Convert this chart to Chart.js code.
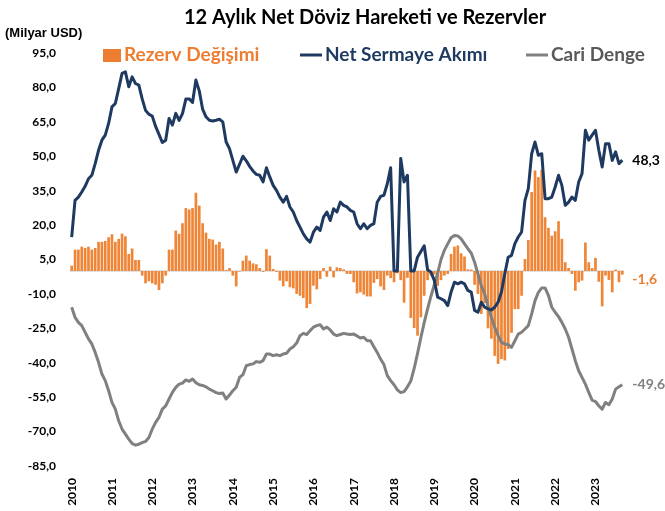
<!DOCTYPE html>
<html>
<head>
<meta charset="utf-8">
<script src="https://cdn.jsdelivr.net/npm/chart.js@4.4.0/dist/chart.umd.min.js"></script>
<style>
  html, body { margin: 0; padding: 0; background: #fff; }
</style>
</head>
<body>
<canvas id="dovizchart" width="665" height="511"></canvas>
<script>
// years on the axis (monthly data, Jan 2010 - Sep 2023)
var years = ['2010','2011','2012','2013','2014','2015','2016','2017','2018','2019','2020','2021','2022','2023'];
var yTicks = [95, 80, 65, 50, 35, 20, 5, -10, -25, -40, -55, -70, -85];

// Rezerv Değişimi (bars), billion USD
var rezervDegisimi = [
  2.3, 9.3, 9.3, 10.6, 10, 10.6, 9.3, 10, 12.7, 12.7, 13.1, 14.7,
  16, 12.7, 14, 16.3, 15.1, 7.4, 9.8, 4.8, 4.8, -2, -5.4, -4.5,
  -5.4, -6, -8.3, -5.4, -2, 9.3, 9.3, 17.6, 16.2, 20.8, 27.4, 26.8,
  27.4, 34.1, 28.5, 20.8, 16.7, 14, 13.7, 11.5, 12.7, 9.8, 0.4, 1.3,
  -2, -6.7, -0.3, 4.5, 6.7, 4.5, 3.3, 2.9, 1.3, -0.4, 9.5, 6.7,
  0.9, -0.4, -4.2, -6.7, -4.5, -7.1, -7.6, -10, -10.8, -11.8, -16.2, -14.4,
  -6.4, -8, -3.5, 1.3, -2.5, 1.9, -2.8, 1.6, 1.3, 0.7, -1.3, -1.3,
  -4.9, -9.8, -9.3, -10.3, -11.1, -11.1, -5.2, -3.5, -6.7, -8.3, -2, -3.1,
  -4.9, -1, -4, -13.8, -3, -20.5, -24.9, -28.2, -20.2, -10.8, -4, -2,
  -1.5, -6.5, -4, -2, -1.3, 7.4, 10.6, 11.1, 7.7, 6.3, 0.7, 0.6,
  -6, -10, -18.7, -14, -25, -29.5, -37, -40.5, -38.4, -39, -34, -27,
  -16.6, -16.6, -10.8, 5.2, 13.5, 34.4, 43.8, 40.9, 44.1, 23.4, 18.8, 15.4,
  17.3, 21.7, 14, 3.8, 1.3, -1.3, -8.6, -4.9, -4.2, 12.4, 3.8, 1.3,
  5.7, -4.7, -15.4, -2, -3.9, -9.3, 0.6, -4.9, -1.6
];

// Net Sermaye Akımı (navy line)
var netSermaye = [
  14.8, 30.8, 32.2, 34.4, 36.9, 40.2, 41.7, 46.8, 52.6, 57, 59.2, 64.3,
  71.5, 73, 79.5, 86.1, 86.8, 80.3, 84.6, 81.7, 81, 75, 70, 68.3,
  67.5, 63, 59.5, 56, 57, 66.5, 63.6, 68.7, 65.6, 68.6, 74.9, 75,
  73.5, 83.2, 78.5, 70.5, 67.2, 65.7, 65.4, 65.7, 66.1, 65, 56.2, 53.3,
  48.2, 43.1, 46.5, 50, 48, 45.6, 43.6, 42.1, 41.7, 38.8, 45, 41,
  37.3, 35.1, 32.2, 30, 32.5, 27.9, 25.7, 22, 19.1, 16.2, 14, 12.6,
  16.9, 19.1, 17.7, 23.5, 25.7, 22, 27.1, 25.7, 30, 28.6, 27.9, 26.4,
  25.7, 20.6, 18.4, 20.6, 18.4, 19.9, 20.6, 30, 32.5, 33, 38, 45,
  0, 0, 49, 38.8, 41.7, 0, 0, 6, 8.5, 11, 0.5, -0.5,
  -4.1, -11.4, -12.1, -12.9, -15.1, -9.2, -4.9, -5.6, -4.9, -5.6, -8.5, -9.2,
  -17.2, -18, -13.6, -15.8, -16.5, -17, -15.8, -13.6, -9.2, -1.2, 6, 6.8,
  11.9, 14.8, 17, 30.8, 35.9, 51.1, 56.2, 50.4, 51.1, 31.5, 31.5, 32.2,
  36.6, 41.7, 37.3, 28.6, 30, 32.2, 30.8, 38.8, 42.4, 61.3, 57, 59.2,
  61.3, 52.6, 45.3, 55.5, 55.5, 48.2, 51.9, 46.8, 48.3
];

// Cari Denge (grey line)
var cariDenge = [
  -15.8, -20.2, -22.4, -23.8, -26.7, -29.6, -31.8, -35.5, -39.8, -44.9, -47.8, -52.2,
  -57.3, -60.2, -65.3, -68.9, -71.1, -73.3, -75.2, -75.9, -75.5, -74.8, -74.3, -72.6,
  -68.9, -66, -63.8, -60.2, -58.8, -55.8, -52.9, -50.7, -49.3, -48.9, -47.5, -48.1,
  -47.1, -48.7, -49.6, -49.9, -50.5, -51.5, -52.2, -53, -53.4, -53.2, -55.8, -54.1,
  -52.2, -50.7, -46.4, -45.2, -41.3, -40.8, -40.5, -39.5, -39.8, -39.1, -36.2, -36.2,
  -36.9, -36.5, -36.9, -36.2, -35.9, -34, -33, -31.4, -28.2, -27.2, -27.7, -26,
  -24.5, -23.8, -23.4, -25.3, -24.5, -25.7, -27.5, -28.2, -27.7, -27.2, -27.5, -27.7,
  -27.5, -28.3, -29.2, -28.9, -30.4, -30.4, -33, -35.5, -38.4, -40.8, -45.6, -47.8,
  -49.6, -51.8, -53, -52.6, -50.5, -48, -42.5, -36, -29, -22.5, -16.5, -11,
  -6, -1, 5, 9, 11.8, 14.5, 15.5, 15.3, 14, 11.8, 9.7, 7.8,
  3.8, -1.3, -6.4, -10, -15.4, -20.2, -24.5, -28.2, -31.1, -31.8, -32.1, -33.3,
  -30.4, -27.5, -26.7, -25.3, -23.8, -18.7, -12.9, -9.3, -7.4, -7.4, -10.7, -15.8,
  -18, -19.9, -22.4, -25.3, -28.9, -34, -39.1, -43.5, -46.4, -49.3, -52.9, -56.3,
  -56.9, -58.8, -60.2, -57.3, -58.3, -55.8, -51.5, -50.5, -49.6
];

var ORANGE = '#ED7D31';
var NAVY = '#1F3A60';
var GREY = '#808080';

// one label per month
var labels = [];
for (var i = 0; i < rezervDegisimi.length; i++) {
  labels.push(years[Math.floor(i / 12)] + '-' + (i % 12 + 1));
}

function fmt(v) {
  return v.toFixed(1).replace('.', ',');
}

// title, unit, legend, zero line and end-of-series labels
var extraTexts = {
  id: 'extraTexts',
  beforeDatasetsDraw: function(chart) {
    var ctx = chart.ctx, a = chart.chartArea;
    var y0 = chart.scales.y.getPixelForValue(0);
    ctx.save();
    ctx.strokeStyle = '#d9d9d9';
    ctx.lineWidth = 1.5;
    ctx.beginPath();
    ctx.moveTo(a.left, y0);
    ctx.lineTo(a.right, y0);
    ctx.stroke();
    ctx.restore();
  },
  afterDraw: function(chart) {
    var ctx = chart.ctx;
    var xs = chart.scales.x, ys = chart.scales.y;
    ctx.save();
    ctx.textBaseline = 'middle';

    ctx.fillStyle = '#000';
    ctx.textAlign = 'center';
    ctx.font = 'bold 20px Lato';
    ctx.fillText('12 Aylık Net Döviz Hareketi ve Rezervler', 365, 18);

    ctx.textAlign = 'left';
    ctx.font = 'bold 13px "Liberation Sans Narrow", "Liberation Sans"';
    ctx.fillText('(Milyar USD)', 5, 33);

    // legend
    ctx.font = 'bold 19px Lato';
    ctx.fillStyle = ORANGE;
    ctx.fillRect(103, 49, 18, 13);
    ctx.fillText('Rezerv Değişimi', 124, 55);

    ctx.strokeStyle = NAVY;
    ctx.lineWidth = 3;
    ctx.beginPath(); ctx.moveTo(300, 55); ctx.lineTo(322, 55); ctx.stroke();
    ctx.fillStyle = NAVY;
    ctx.fillText('Net Sermaye Akımı', 325, 55);

    ctx.strokeStyle = GREY;
    ctx.beginPath(); ctx.moveTo(526, 55); ctx.lineTo(548, 55); ctx.stroke();
    ctx.fillStyle = '#595959';
    ctx.fillText('Cari Denge', 551, 55);

    // last values
    var last = rezervDegisimi.length - 1;
    var lx = xs.getPixelForValue(last) + 10;
    ctx.font = 'bold 14px Lato';
    ctx.fillStyle = '#000';
    ctx.fillText(fmt(netSermaye[last]), lx, ys.getPixelForValue(netSermaye[last]));
    ctx.fillStyle = ORANGE;
    ctx.fillText(fmt(rezervDegisimi[last]), lx, ys.getPixelForValue(rezervDegisimi[last]) + 5);
    ctx.fillStyle = GREY;
    ctx.fillText(fmt(cariDenge[last]), lx, ys.getPixelForValue(cariDenge[last]));
    ctx.restore();
  }
};

var ctx = document.getElementById('dovizchart').getContext('2d');
var chart = new Chart(ctx, {
  type: 'bar',
  data: {
    labels: labels,
    datasets: [
      {
        type: 'line',
        label: 'Net Sermaye Akımı',
        data: netSermaye,
        borderColor: NAVY,
        borderWidth: 3,
        pointRadius: 0,
        tension: 0,
        borderJoinStyle: 'round',
        order: 1
      },
      {
        type: 'line',
        label: 'Cari Denge',
        data: cariDenge,
        borderColor: GREY,
        borderWidth: 3,
        pointRadius: 0,
        tension: 0,
        borderJoinStyle: 'round',
        order: 2
      },
      {
        label: 'Rezerv Değişimi',
        data: rezervDegisimi,
        backgroundColor: '#EF8536',
        borderWidth: 0,
        barPercentage: 0.8,
        categoryPercentage: 1.0,
        order: 3
      }
    ]
  },
  options: {
    responsive: false,
    animation: false,
    devicePixelRatio: 1,
    layout: { padding: { top: 53, right: 41, bottom: 5, left: 23 } },
    plugins: {
      legend: { display: false },
      title: { display: false },
      tooltip: { enabled: false }
    },
    scales: {
      x: {
        grid: { display: false, drawTicks: false },
        border: { display: false },
        ticks: {
          autoSkip: false,
          maxRotation: 90,
          minRotation: 90,
          padding: 12,
          color: '#000',
          font: { family: 'Lato', weight: 'bold', size: 12 },
          callback: function(val, idx) {
            return idx % 12 === 0 ? years[idx / 12] : '';
          }
        },
        afterFit: function(s) { s.height = 40; }
      },
      y: {
        min: -85,
        max: 95,
        grid: { display: false, drawTicks: false },
        border: { display: false },
        afterBuildTicks: function(s) {
          s.ticks = yTicks.map(function(v) { return { value: v }; });
        },
        ticks: {
          padding: 14,
          color: '#000',
          font: { family: 'Lato', weight: 'bold', size: 12 },
          callback: function(v) { return fmt(v); }
        },
        afterFit: function(s) { s.width = 47; }
      }
    }
  },
  plugins: [extraTexts]
});
</script>
</body>
</html>
